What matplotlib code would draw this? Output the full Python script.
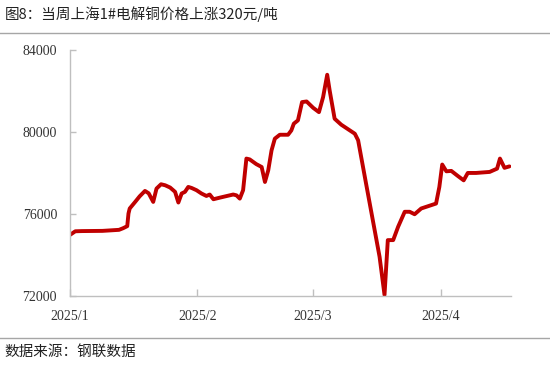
import matplotlib
matplotlib.use("Agg")
import matplotlib.pyplot as plt
from matplotlib.lines import Line2D

# days since 2025/1/1 and price (yuan/ton)
days = [0, 1.4, 3, 8, 12, 13, 14, 14.3, 14.6, 16, 17, 18.3, 19.2, 20.3, 21.1, 22.2,
        23.2, 24.4, 25.6, 26.4, 27.2, 28, 28.8, 29.6, 30.8, 32, 33.2, 34, 34.9,
        36.5, 39.7, 40.5, 41.3, 42.1, 42.9, 43.7, 45.3, 46.6, 47.4, 48.2, 49,
        49.8, 51, 53, 53.8, 54.4, 55.4, 56.4, 57.5, 59.1, 60.5, 61.5, 62.5, 63.1,
        64.3, 65.9, 68, 69.2, 70, 72, 75.2, 76.4, 77.2, 78.5, 79.7, 81.3, 82.5,
        83.7, 85.3, 86.5, 88.9, 89.7, 90.4, 91.4, 92.6, 94.2, 95.6, 96.6, 98.6,
        101.9, 103.7, 104.4, 105.5, 106.7]
price = [74960, 75150, 75160, 75170, 75220, 75300, 75400, 76015, 76260, 76600,
         76850, 77115, 77000, 76580, 77230, 77440, 77390, 77280, 77070, 76550,
         76990, 77070, 77310, 77260, 77150, 76990, 76870, 76940, 76710, 76790,
         76940, 76900, 76740, 77150, 78690, 78650, 78420, 78280, 77550, 78120,
         79090, 79660, 79850, 79850, 80060, 80390, 80550, 81440, 81470, 81160,
         80950, 81680, 82770, 82000, 80630, 80340, 80060, 79900, 79580, 77390,
         73910, 72050, 74720, 74720, 75370, 76100, 76100, 75980, 76260, 76340,
         76500, 77310, 78400, 78070, 78090, 77840, 77630, 77990, 77990, 78040,
         78200, 78690, 78240, 78310]

month_pos = [0, 31, 59, 90]
month_labels = ["2025/1", "2025/2", "2025/3", "2025/4"]
y_ticks = [72000, 76000, 80000, 84000]

title = "图8：当周上海1#电解铜价格上涨320元/吨"
source = "数据来源：钢联数据"

cjk = ["Noto Sans CJK SC", "DejaVu Sans"]
axis_gray = "#bfbfbf"

fig = plt.figure(figsize=(5.5, 3.67), dpi=100)
ax = fig.add_axes([0.1264, 0.1935, 0.8036, 0.6716])

ax.plot(days, price, color="#c00000", linewidth=2.8,
        solid_joinstyle="round", solid_capstyle="round")

ax.set_xlim(0, 107.2)
ax.set_ylim(72000, 84000)
ax.set_xticks(month_pos)
ax.set_xticklabels(month_labels)
ax.set_yticks(y_ticks)

for side in ["top", "right"]:
    ax.spines[side].set_visible(False)
for side in ["left", "bottom"]:
    ax.spines[side].set_color(axis_gray)
    ax.spines[side].set_linewidth(1.0)

ax.tick_params(axis="both", direction="in", color=axis_gray, width=1.0,
               labelsize=10, labelcolor="#333333")
ax.tick_params(axis="y", length=4, pad=9)
ax.tick_params(axis="x", length=5, pad=10)
for lbl in ax.get_xticklabels() + ax.get_yticklabels():
    lbl.set_family("Liberation Serif")

# title, separators and source note
fig.text(0.008, 0.962, title, family=cjk, fontsize=10.5, color="#222222",
         ha="left", va="center")
fig.text(0.008, 0.041, source, family=cjk, fontsize=10.5, color="#222222",
         ha="left", va="center")
fig.add_artist(Line2D([0, 1], [1 - 33 / 367, 1 - 33 / 367], color="#a6a6a6",
                      linewidth=1.0, transform=fig.transFigure))
fig.add_artist(Line2D([0, 1], [1 - 338 / 367, 1 - 338 / 367], color="#a6a6a6",
                      linewidth=1.0, transform=fig.transFigure))

fig.savefig("out.png", dpi=100)
